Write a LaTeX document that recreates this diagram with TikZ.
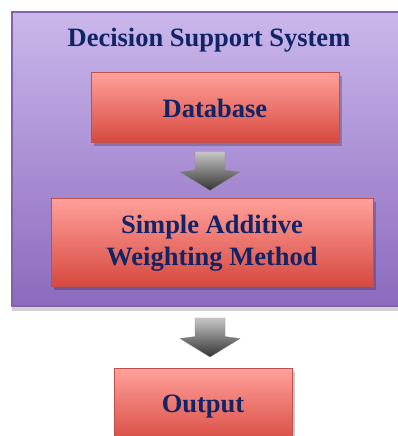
\documentclass[tikz,border=0pt]{standalone}
\usepackage{fontspec}
\setmainfont{Liberation Serif}
\usetikzlibrary{shadows,calc}

\definecolor{dssTop}{RGB}{202,183,235}
\definecolor{dssBottom}{RGB}{140,106,190}
\definecolor{dssLine}{RGB}{128,100,168}
\definecolor{boxTop}{RGB}{255,160,154}
\definecolor{boxBottom}{RGB}{214,72,62}
\definecolor{boxLine}{RGB}{192,80,77}
\definecolor{textNavy}{RGB}{16,36,102}

\tikzset{
  dssframe/.style={draw=dssLine, line width=1.2pt, top color=dssTop, bottom color=dssBottom,
    drop shadow={shadow xshift=0pt, shadow yshift=-5pt, opacity=0.18, fill=black}},
  redbox/.style={draw=boxLine, line width=1pt, top color=boxTop, bottom color=boxBottom,
    text=textNavy, font=\fontsize{26.5}{32}\selectfont\bfseries, align=center,
    drop shadow={shadow xshift=3pt, shadow yshift=-3pt, opacity=0.22, fill=black}},
  greyarrow/.style={draw=black!45, line width=0.3pt, top color=black!22, bottom color=black!80}
}

\begin{document}
\begin{tikzpicture}[x=1pt,y=1pt]
  \useasboundingbox (0,0) rectangle (397,436);

  % Outer frame of the system
  \node[dssframe, minimum width=398pt, minimum height=294pt] (dss) at (211,277) {};
  \node[text=textNavy, font=\fontsize{26.5}{32}\selectfont\bfseries] (title) at (209,396) {Decision Support System};

  % Blocks inside and below the frame
  \node[redbox, minimum width=248pt, minimum height=70pt] (db) at (215,328) {Database};
  \node[redbox, minimum width=322pt, minimum height=88pt] (saw) at (212,193)
    {Simple Additive\\Weighting Method};
  \node[redbox, minimum width=178pt, minimum height=76pt] (out) at (203,29) {Output};

  % Block arrows between the blocks
  \foreach \from/\to in {db.south/saw.north, dss.south/out.north}{
    \coordinate (mid) at ($(\from)!0.5!(\to)$);
    \draw[greyarrow] ([xshift=1pt]title |- mid) ++(-15,19.5) -- ++(30,0) -- ++(0,-18.5) -- ++(15,-2)
      -- ++(-30,-18.5) -- ++(-30,18.5) -- ++(15,2) -- cycle;
  }
\end{tikzpicture}
\end{document}
